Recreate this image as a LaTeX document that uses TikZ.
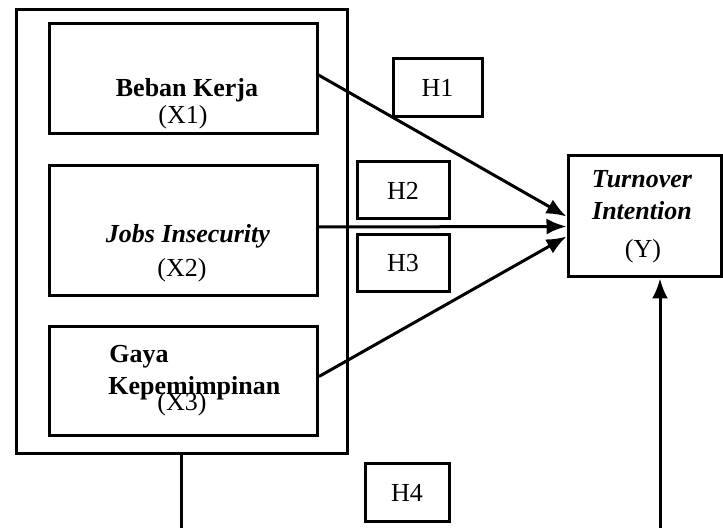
\documentclass[tikz,border=0pt]{standalone}
\usepackage{fontspec}
\setmainfont{Liberation Serif}
\usetikzlibrary{arrows.meta}

\tikzset{
  var/.style={rectangle, draw, line width=1.5pt, minimum width=134pt, inner sep=0pt},
  hyp/.style={rectangle, draw, line width=1.5pt, inner sep=0pt, font=\fontsize{13}{15}\selectfont},
  txt/.style={inner sep=0pt, font=\fontsize{13}{15}\selectfont},
  arr/.style={line width=1.5pt, -{Latex[length=10pt,width=8pt]}}
}

\begin{document}
\begin{tikzpicture}[x=0.5pt, y=-0.5pt]
  \useasboundingbox (0,0) rectangle (723,528);
  \clip (0,0) rectangle (723,528);

  % Variable boxes
  \node[var, minimum width=165.5pt, minimum height=222pt] (outer) at (181.5,232) {};
  \node[var, minimum height=55pt] (x1) at (183,79) {};
  \node[var, minimum height=65pt] (x2) at (183,231) {};
  \node[var, minimum height=54.5pt] (x3) at (183.5,381.5) {};
  \node[var, minimum width=76.5pt, minimum height=60.5pt] (y) at (644.5,216.5) {};

  % Labels
  \node[txt, anchor=base] (x1a) at (187,97) {\textbf{Beban Kerja}};
  \node[txt, anchor=base] (x1b) at (183,124) {(X1)};
  \node[txt, anchor=base] (x2a) at (188,243) {\textbf{\textit{Jobs Insecurity}}};
  \node[txt, anchor=base] (x2b) at (182,277) {(X2)};
  \node[txt, anchor=base west] (x3a) at (109,363) {\textbf{Gaya}};
  \node[txt, anchor=base west] (x3b) at (108,395) {\textbf{Kepemimpinan}};
  \node[txt, anchor=base] (x3c) at (182,411) {(X3)};
  \node[txt, anchor=base] (ya) at (642,188) {\textbf{\textit{Turnover}}};
  \node[txt, anchor=base] (yb) at (642,220) {\textbf{\textit{Intention}}};
  \node[txt, anchor=base] (yc) at (643,258) {(Y)};

  % Hypotheses
  \node[hyp, minimum width=44.5pt, minimum height=29pt] (h1) at (437.5,88) {H1};
  \node[hyp, minimum width=46pt, minimum height=28.5pt] (h2) at (403,190.5) {H2};
  \node[hyp, minimum width=46pt, minimum height=28.5pt] (h3) at (403,263.5) {H3};
  \node[hyp, minimum width=42pt, minimum height=29pt] (h4) at (407,493) {H4};

  % Edges
  \draw[arr] ([yshift=2pt]x1.east) -- (y.west);
  \draw[arr] ([yshift=2pt]x2.east) -- ([yshift=-5pt]y.west);
  \draw[arr] ([yshift=2.5pt]x3.east) -- ([yshift=-10pt]y.west);
  \draw[arr] (outer.south) -- ++(0,120) -| ([xshift=7.75pt]y.south);
\end{tikzpicture}
\end{document}
